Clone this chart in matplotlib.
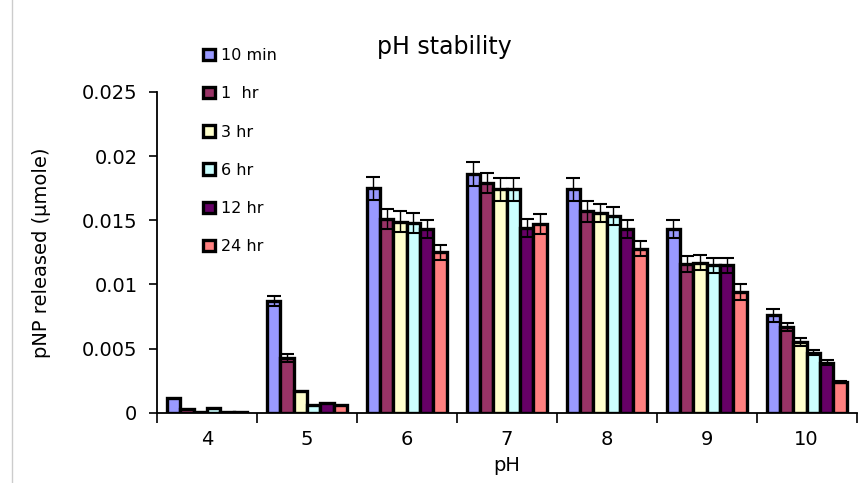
import matplotlib.pyplot as plt
import numpy as np

plt.rcParams['font.family'] = ['DejaVu Sans']

ph = ['4', '5', '6', '7', '8', '9', '10']
series = ['10 min', '1  hr', '3 hr', '6 hr', '12 hr', '24 hr']
colors = ['#9999FF', '#993366', '#FFFFCC', '#CCFFFF', '#660066', '#FF8080']

v_10min = [0.0012, 0.0087, 0.0175, 0.0186, 0.0174, 0.0143, 0.0076]
v_1hr = [0.0003, 0.0043, 0.0151, 0.0179, 0.0157, 0.0116, 0.0067]
v_3hr = [0.0001, 0.0017, 0.0149, 0.0174, 0.0156, 0.0117, 0.0055]
v_6hr = [0.0004, 0.0006, 0.0148, 0.0174, 0.0153, 0.0115, 0.0047]
v_12hr = [0.00005, 0.0008, 0.0143, 0.0144, 0.0143, 0.0115, 0.0039]
v_24hr = [0.00005, 0.0006, 0.0125, 0.0147, 0.0128, 0.0094, 0.0024]

e_10min = [0, 0.0004, 0.0009, 0.0009, 0.0009, 0.0007, 0.0005]
e_1hr = [0, 0.0003, 0.0008, 0.0008, 0.0008, 0.0006, 0.0003]
e_3hr = [0, 0, 0.0008, 0.0009, 0.0007, 0.0006, 0.0003]
e_6hr = [0, 0, 0.0008, 0.0009, 0.0007, 0.0006, 0.0002]
e_12hr = [0, 0, 0.0007, 0.0007, 0.0007, 0.0006, 0.0002]
e_24hr = [0, 0, 0.0006, 0.0008, 0.0006, 0.0006, 0.0001]

values = [v_10min, v_1hr, v_3hr, v_6hr, v_12hr, v_24hr]
errors = [e_10min, e_1hr, e_3hr, e_6hr, e_12hr, e_24hr]

fig = plt.figure(figsize=(8.67, 4.83), dpi=100)
ax = fig.add_axes([0.181, 0.145, 0.807, 0.665])

x = np.arange(len(ph))
w = 0.8 / len(series)
for i, (name, vals, errs, c) in enumerate(zip(series, values, errors, colors)):
    pos = x - 0.4 + w * (i + 0.5)
    ax.bar(pos, vals, width=w, color=c, edgecolor='black', linewidth=2.4,
           label=name, zorder=2)
    errs = np.array(errs)
    m = errs > 0
    ax.errorbar(pos[m], np.array(vals)[m], yerr=errs[m], fmt='none',
                ecolor='black', elinewidth=1, capsize=5, capthick=1.5, zorder=3)

ax.set_xlim(-0.5, 6.5)
ax.set_ylim(0, 0.025)
ax.set_yticks([0, 0.005, 0.01, 0.015, 0.02, 0.025])
ax.set_yticklabels(['0', '0.005', '0.01', '0.015', '0.02', '0.025'], fontsize=14)
ax.set_xticks(x)
ax.set_xticklabels(ph, fontsize=14)
ax.set_xticks(np.arange(-0.5, 7, 1), minor=True)
ax.tick_params(axis='x', which='major', length=0, pad=12)
ax.tick_params(axis='x', which='minor', length=7, width=1.2, direction='out')
ax.tick_params(axis='y', length=6, width=1.2, direction='out', pad=8)

for s in ['top', 'right']:
    ax.spines[s].set_visible(False)
ax.spines['left'].set_linewidth(1.3)
ax.spines['bottom'].set_linewidth(1.3)

ax.set_xlabel('pH', fontsize=14, labelpad=5)
ax.set_ylabel('pNP released (μmole)', fontsize=14, labelpad=22)
fig.text(0.512, 0.903, 'pH stability', fontsize=17, ha='center', va='center')

leg = ax.legend(loc='upper left', bbox_to_anchor=(0.218, 0.93),
                bbox_transform=fig.transFigure, frameon=False, fontsize=11.5,
                handlelength=0.7, handleheight=0.7, handletextpad=0.4,
                labelspacing=1.45)

fig.add_artist(plt.Line2D([0.014, 0.014], [0.0, 1.0], color='#cccccc', lw=1))

plt.savefig('out.png', dpi=100)
